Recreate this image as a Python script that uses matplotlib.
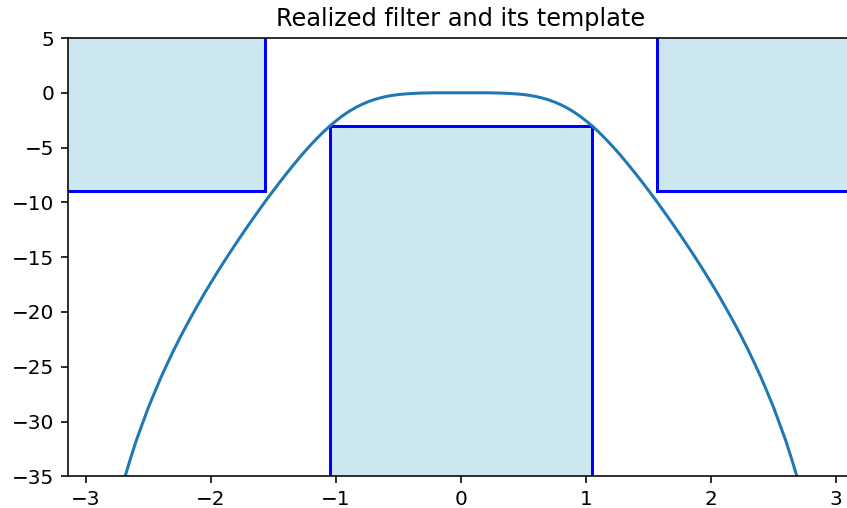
import matplotlib
matplotlib.use('Agg')
import matplotlib.pyplot as plt
from matplotlib.patches import Rectangle

# frequency response (rad/sample, dB)
freq = [-2.8, -2.75, -2.7, -2.65, -2.6, -2.55, -2.5, -2.45, -2.4, -2.35,
        -2.3, -2.25, -2.2, -2.15, -2.1, -2.05, -2.0, -1.95, -1.9, -1.85,
        -1.8, -1.75, -1.7, -1.65, -1.6, -1.55, -1.5, -1.45, -1.4, -1.35,
        -1.3, -1.25, -1.2, -1.15, -1.1, -1.05, -1.0, -0.95, -0.9, -0.85,
        -0.8, -0.75, -0.7, -0.65, -0.6, -0.55, -0.5, -0.45, -0.4, -0.35,
        -0.3, -0.25, -0.2, -0.15, -0.1, -0.05, 0.0,
        0.05, 0.1, 0.15, 0.2, 0.25, 0.3, 0.35, 0.4, 0.45, 0.5,
        0.55, 0.6, 0.65, 0.7, 0.75, 0.8, 0.85, 0.9, 0.95, 1.0,
        1.05, 1.1, 1.15, 1.2, 1.25, 1.3, 1.35, 1.4, 1.45, 1.5,
        1.55, 1.6, 1.65, 1.7, 1.75, 1.8, 1.85, 1.9, 1.95, 2.0,
        2.05, 2.1, 2.15, 2.2, 2.25, 2.3, 2.35, 2.4, 2.45, 2.5,
        2.55, 2.6, 2.65, 2.7, 2.75, 2.8]
gain_db = [-40.07, -37.62, -35.50, -33.60, -31.81, -30.24, -28.69, -27.32, -25.97, -24.73,
           -23.53, -22.39, -21.31, -20.26, -19.25, -18.26, -17.32, -16.39, -15.49, -14.61,
           -13.75, -12.90, -12.07, -11.26, -10.46, -9.67, -8.91, -8.16, -7.43, -6.72,
           -6.03, -5.36, -4.73, -4.13, -3.56, -3.04, -2.56, -2.12, -1.73, -1.39,
           -1.10, -0.85, -0.64, -0.48, -0.34, -0.24, -0.16, -0.11, -0.07, -0.04,
           -0.02, -0.01, 0.0, 0.0, 0.0, 0.0, 0.0,
           0.0, 0.0, 0.0, 0.0, -0.01, -0.02, -0.04, -0.07, -0.11, -0.16,
           -0.24, -0.34, -0.48, -0.64, -0.85, -1.10, -1.39, -1.73, -2.12, -2.56,
           -3.04, -3.56, -4.13, -4.73, -5.36, -6.03, -6.72, -7.43, -8.16, -8.91,
           -9.67, -10.46, -11.26, -12.07, -12.90, -13.75, -14.61, -15.49, -16.39, -17.32,
           -18.26, -19.25, -20.26, -21.31, -22.39, -23.53, -24.73, -25.97, -27.32, -28.69,
           -30.24, -31.81, -33.60, -35.50, -37.62, -40.07]

# template
pass_edge = 1.047
stop_edge = 1.571
pass_gain = -3
stop_gain = -9
x_range = 3.1416
y_range = (-35, 5)

fig = plt.figure(figsize=(847 / 144, 508 / 144), dpi=144)
ax = fig.add_axes([68.3 / 847, 31.7 / 508, 785.4 / 847, 438.3 / 508])

box_face = (0.678, 0.847, 0.902, 0.6)
ax.add_patch(Rectangle((-pass_edge, y_range[0] - 10), 2 * pass_edge,
                       pass_gain - y_range[0] + 10,
                       facecolor=box_face, edgecolor='blue', lw=1.5, zorder=1))
ax.add_patch(Rectangle((-x_range - 1, stop_gain), x_range + 1 - stop_edge,
                       y_range[1] + 10 - stop_gain,
                       facecolor=box_face, edgecolor='blue', lw=1.5, zorder=1))
ax.add_patch(Rectangle((stop_edge, stop_gain), x_range + 1 - stop_edge,
                       y_range[1] + 10 - stop_gain,
                       facecolor=box_face, edgecolor='blue', lw=1.5, zorder=1))

ax.plot(freq, gain_db, color='#1f77b4', lw=1.5, zorder=2)

ax.set_xlim(-x_range, x_range)
ax.set_ylim(*y_range)
ax.set_title('Realized filter and its template')

fig.savefig('out.png', dpi=144)
